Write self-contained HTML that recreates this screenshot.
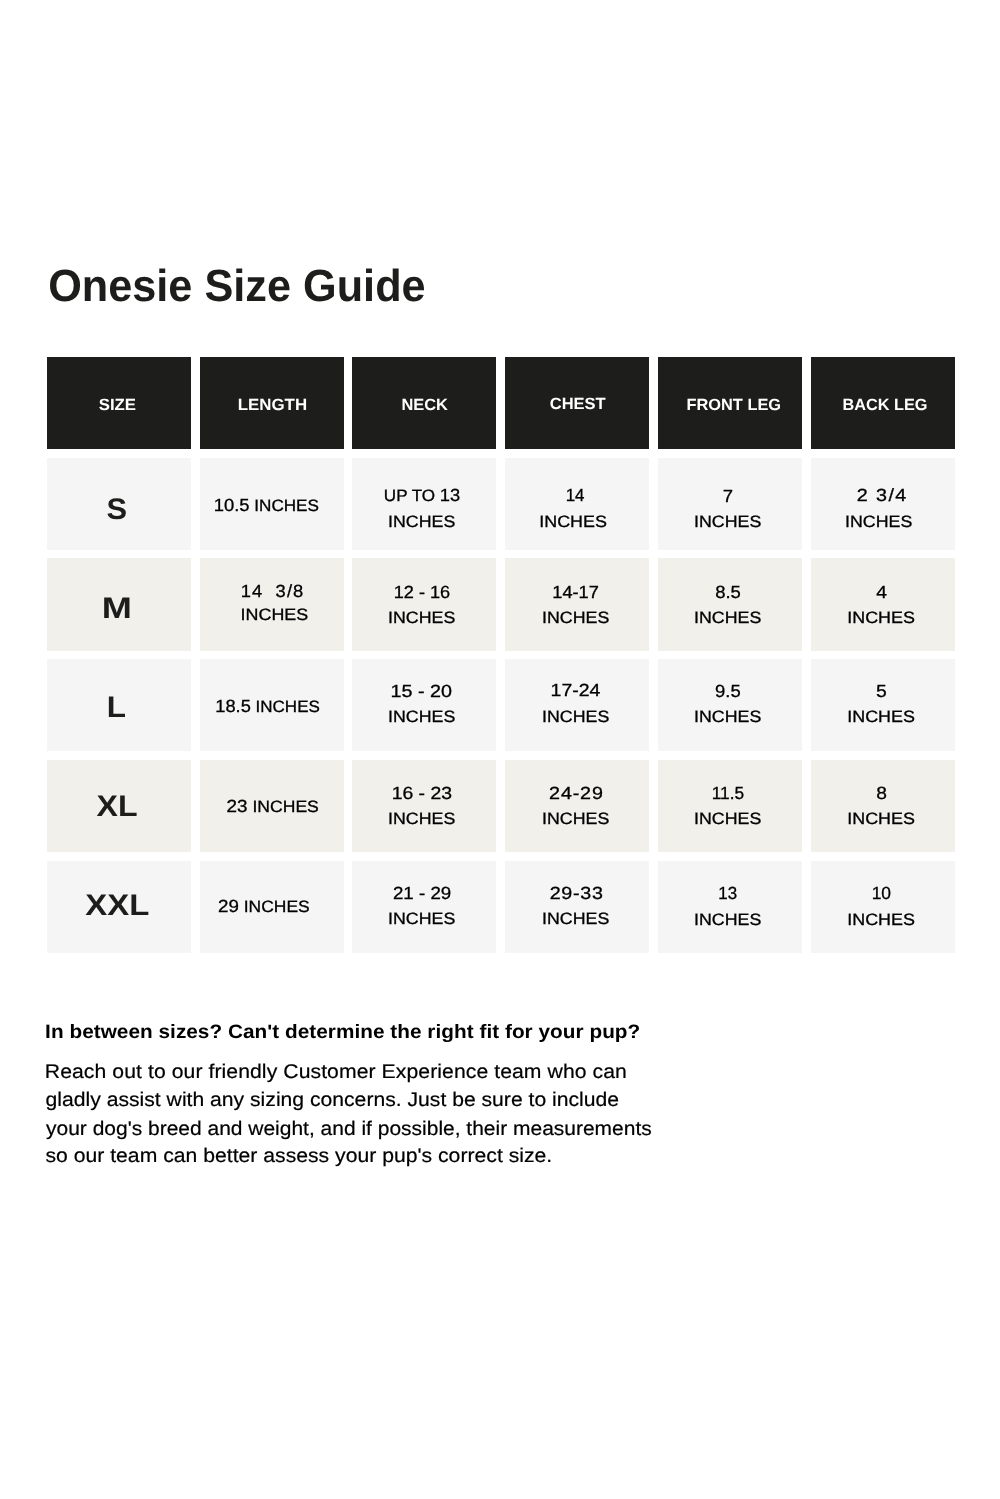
<!DOCTYPE html>
<html lang="en">
<head>
<meta charset="utf-8">
<title>Onesie Size Guide</title>
<style>
html,body{margin:0;padding:0;background:#fff;}
body{width:1000px;height:1499px;position:relative;overflow:hidden;font-family:"Liberation Sans",sans-serif;}
.c{position:absolute;}
.n{font-size:1.075em;}
.t{position:absolute;transform-origin:0 0;margin:0;padding:0;white-space:pre;font-weight:400;line-height:1;text-rendering:geometricPrecision;}
</style>
</head>
<body>
<main>
<section aria-label="size chart">
<div class="c" style="left:47.1px;top:357.3px;width:143.7px;height:91.7px;background:#1d1d1b"></div>
<div class="c" style="left:199.85px;top:357.3px;width:143.7px;height:91.7px;background:#1d1d1b"></div>
<div class="c" style="left:352.35px;top:357.3px;width:143.6px;height:91.7px;background:#1d1d1b"></div>
<div class="c" style="left:505px;top:357.3px;width:143.9px;height:91.7px;background:#1d1d1b"></div>
<div class="c" style="left:658px;top:357.3px;width:144px;height:91.7px;background:#1d1d1b"></div>
<div class="c" style="left:810.5px;top:357.3px;width:144.25px;height:91.7px;background:#1d1d1b"></div>
<div class="c" style="left:47.1px;top:457.7px;width:143.7px;height:92.35px;background:#f5f5f5"></div>
<div class="c" style="left:199.85px;top:457.7px;width:143.7px;height:92.35px;background:#f5f5f5"></div>
<div class="c" style="left:352.35px;top:457.7px;width:143.6px;height:92.35px;background:#f5f5f5"></div>
<div class="c" style="left:505px;top:457.7px;width:143.9px;height:92.35px;background:#f5f5f5"></div>
<div class="c" style="left:658px;top:457.7px;width:144px;height:92.35px;background:#f5f5f5"></div>
<div class="c" style="left:810.5px;top:457.7px;width:144.25px;height:92.35px;background:#f5f5f5"></div>
<div class="c" style="left:47.1px;top:558.45px;width:143.7px;height:92.35px;background:#f1f0eb"></div>
<div class="c" style="left:199.85px;top:558.45px;width:143.7px;height:92.35px;background:#f1f0eb"></div>
<div class="c" style="left:352.35px;top:558.45px;width:143.6px;height:92.35px;background:#f1f0eb"></div>
<div class="c" style="left:505px;top:558.45px;width:143.9px;height:92.35px;background:#f1f0eb"></div>
<div class="c" style="left:658px;top:558.45px;width:144px;height:92.35px;background:#f1f0eb"></div>
<div class="c" style="left:810.5px;top:558.45px;width:144.25px;height:92.35px;background:#f1f0eb"></div>
<div class="c" style="left:47.1px;top:659.2px;width:143.7px;height:92.0px;background:#f5f5f5"></div>
<div class="c" style="left:199.85px;top:659.2px;width:143.7px;height:92.0px;background:#f5f5f5"></div>
<div class="c" style="left:352.35px;top:659.2px;width:143.6px;height:92.0px;background:#f5f5f5"></div>
<div class="c" style="left:505px;top:659.2px;width:143.9px;height:92.0px;background:#f5f5f5"></div>
<div class="c" style="left:658px;top:659.2px;width:144px;height:92.0px;background:#f5f5f5"></div>
<div class="c" style="left:810.5px;top:659.2px;width:144.25px;height:92.0px;background:#f5f5f5"></div>
<div class="c" style="left:47.1px;top:759.7px;width:143.7px;height:92.2px;background:#f1f0eb"></div>
<div class="c" style="left:199.85px;top:759.7px;width:143.7px;height:92.2px;background:#f1f0eb"></div>
<div class="c" style="left:352.35px;top:759.7px;width:143.6px;height:92.2px;background:#f1f0eb"></div>
<div class="c" style="left:505px;top:759.7px;width:143.9px;height:92.2px;background:#f1f0eb"></div>
<div class="c" style="left:658px;top:759.7px;width:144px;height:92.2px;background:#f1f0eb"></div>
<div class="c" style="left:810.5px;top:759.7px;width:144.25px;height:92.2px;background:#f1f0eb"></div>
<div class="c" style="left:47.1px;top:860.6px;width:143.7px;height:92.4px;background:#f5f5f5"></div>
<div class="c" style="left:199.85px;top:860.6px;width:143.7px;height:92.4px;background:#f5f5f5"></div>
<div class="c" style="left:352.35px;top:860.6px;width:143.6px;height:92.4px;background:#f5f5f5"></div>
<div class="c" style="left:505px;top:860.6px;width:143.9px;height:92.4px;background:#f5f5f5"></div>
<div class="c" style="left:658px;top:860.6px;width:144px;height:92.4px;background:#f5f5f5"></div>
<div class="c" style="left:810.5px;top:860.6px;width:144.25px;height:92.4px;background:#f5f5f5"></div>
</section>
<h1 class="t" style="left:48px;top:262.80px;font-size:45px;font-weight:700;color:#1d1d1b;transform:translate(0.14px,0) scaleX(0.9614)">Onesie Size Guide</h1>
<div class="t" style="left:98px;top:396.51px;font-size:16.2px;font-weight:700;color:#fff;transform:translate(0.68px,0) scaleX(1.0382)">SIZE</div>
<div class="t" style="left:237px;top:396.51px;font-size:16.2px;font-weight:700;color:#fff;transform:translate(0.71px,0) scaleX(1.0427)">LENGTH</div>
<div class="t" style="left:401px;top:396.51px;font-size:16.2px;font-weight:700;color:#fff;transform:translate(0.44px,0) scaleX(1.0133)">NECK</div>
<div class="t" style="left:549px;top:396.31px;font-size:16.2px;font-weight:700;color:#fff;transform:translate(0.70px,0) scaleX(1.0205)">CHEST</div>
<div class="t" style="left:686px;top:396.70px;font-size:16.2px;font-weight:700;color:#fff;transform:translate(0.45px,0) scaleX(1.0121)">FRONT LEG</div>
<div class="t" style="left:842px;top:396.70px;font-size:16.2px;font-weight:700;color:#fff;transform:translate(0.47px,0) scaleX(1.0056)">BACK LEG</div>
<div class="t" style="left:106px;top:495.20px;font-size:29.7px;font-weight:700;color:#1d1d1b;transform:translate(0.61px,0) scaleX(1.0386)">S</div>
<div class="t" style="left:213px;top:497.01px;font-size:16.4px;font-weight:400;color:#000;-webkit-text-stroke:0.3px #000;transform:translate(0.75px,0) scaleX(1.0436)"><span class="n">10.5</span> INCHES</div>
<div class="t" style="left:383px;top:487.01px;font-size:16.4px;font-weight:400;color:#000;-webkit-text-stroke:0.3px #000;transform:translate(0.83px,0) scaleX(1.0411)">UP TO <span class="n">13</span></div>
<div class="t" style="left:388px;top:514.01px;font-size:16.4px;font-weight:400;color:#000;-webkit-text-stroke:0.3px #000;transform:translate(0.10px,0) scaleX(1.0840)">INCHES</div>
<div class="t" style="left:565px;top:487.01px;font-size:16.4px;font-weight:400;color:#000;-webkit-text-stroke:0.3px #000;transform:translate(0.69px,0) scaleX(0.9608)"><span class="n">14</span></div>
<div class="t" style="left:539px;top:513.70px;font-size:16.4px;font-weight:400;color:#000;-webkit-text-stroke:0.3px #000;transform:translate(0.23px,0) scaleX(1.0923)">INCHES</div>
<div class="t" style="left:722px;top:487.51px;font-size:16.4px;font-weight:400;color:#000;-webkit-text-stroke:0.3px #000;transform:translate(0.65px,0) scaleX(1.0502)"><span class="n">7</span></div>
<div class="t" style="left:694px;top:514.01px;font-size:16.4px;font-weight:400;color:#000;-webkit-text-stroke:0.3px #000;transform:translate(0.10px,0) scaleX(1.0840)">INCHES</div>
<div class="t" style="left:856px;top:487.20px;font-size:16.4px;font-weight:400;color:#000;-webkit-text-stroke:0.3px #000;letter-spacing:1.304px;transform:translate(0.63px,0) scaleX(1.1200)"><span class="n">2 3/4</span></div>
<div class="t" style="left:845px;top:514.01px;font-size:16.4px;font-weight:400;color:#000;-webkit-text-stroke:0.3px #000;transform:translate(0.10px,0) scaleX(1.0840)">INCHES</div>
<div class="t" style="left:101px;top:594.00px;font-size:29.7px;font-weight:700;color:#1d1d1b;transform:translate(0.82px,0) scaleX(1.2174)">M</div>
<div class="t" style="left:240px;top:582.51px;font-size:16.4px;font-weight:400;color:#000;-webkit-text-stroke:0.3px #000;letter-spacing:1.033px;transform:translate(0.78px,0) scaleX(1.0400)"><span class="n">14  3/8</span></div>
<div class="t" style="left:240px;top:606.51px;font-size:16.4px;font-weight:400;color:#000;-webkit-text-stroke:0.3px #000;transform:translate(0.58px,0) scaleX(1.0910)">INCHES</div>
<div class="t" style="left:393px;top:583.51px;font-size:16.4px;font-weight:400;color:#000;-webkit-text-stroke:0.3px #000;transform:translate(0.78px,0) scaleX(1.0282)"><span class="n">12 - 16</span></div>
<div class="t" style="left:388px;top:610.01px;font-size:16.4px;font-weight:400;color:#000;-webkit-text-stroke:0.3px #000;transform:translate(0.10px,0) scaleX(1.0841)">INCHES</div>
<div class="t" style="left:552px;top:583.51px;font-size:16.4px;font-weight:400;color:#000;-webkit-text-stroke:0.3px #000;transform:translate(0.28px,0) scaleX(1.0348)"><span class="n">14-17</span></div>
<div class="t" style="left:542px;top:610.01px;font-size:16.4px;font-weight:400;color:#000;-webkit-text-stroke:0.3px #000;transform:translate(0.10px,0) scaleX(1.0841)">INCHES</div>
<div class="t" style="left:715px;top:584.01px;font-size:16.4px;font-weight:400;color:#000;-webkit-text-stroke:0.3px #000;transform:translate(0.13px,0) scaleX(1.0490)"><span class="n">8.5</span></div>
<div class="t" style="left:694px;top:610.31px;font-size:16.4px;font-weight:400;color:#000;-webkit-text-stroke:0.3px #000;transform:translate(0.10px,0) scaleX(1.0841)">INCHES</div>
<div class="t" style="left:876px;top:584.01px;font-size:16.4px;font-weight:400;color:#000;-webkit-text-stroke:0.3px #000;transform:translate(0.17px,0) scaleX(1.0968)"><span class="n">4</span></div>
<div class="t" style="left:847px;top:610.31px;font-size:16.4px;font-weight:400;color:#000;-webkit-text-stroke:0.3px #000;transform:translate(0.23px,0) scaleX(1.0922)">INCHES</div>
<div class="t" style="left:106px;top:693.00px;font-size:29.7px;font-weight:700;color:#1d1d1b;transform:translate(0.77px,0) scaleX(1.0591)">L</div>
<div class="t" style="left:215px;top:698.01px;font-size:16.4px;font-weight:400;color:#000;-webkit-text-stroke:0.3px #000;transform:translate(0.30px,0) scaleX(1.0371)"><span class="n">18.5</span> INCHES</div>
<div class="t" style="left:390px;top:682.51px;font-size:16.4px;font-weight:400;color:#000;-webkit-text-stroke:0.3px #000;letter-spacing:0.021px;transform:translate(0.51px,0) scaleX(1.1200)"><span class="n">15 - 20</span></div>
<div class="t" style="left:388px;top:709.01px;font-size:16.4px;font-weight:400;color:#000;-webkit-text-stroke:0.3px #000;transform:translate(0.10px,0) scaleX(1.0840)">INCHES</div>
<div class="t" style="left:550px;top:682.01px;font-size:16.4px;font-weight:400;color:#000;-webkit-text-stroke:0.3px #000;transform:translate(0.60px,0) scaleX(1.1031)"><span class="n">17-24</span></div>
<div class="t" style="left:542px;top:709.01px;font-size:16.4px;font-weight:400;color:#000;-webkit-text-stroke:0.3px #000;transform:translate(0.10px,0) scaleX(1.0840)">INCHES</div>
<div class="t" style="left:715px;top:682.51px;font-size:16.4px;font-weight:400;color:#000;-webkit-text-stroke:0.3px #000;transform:translate(0.11px,0) scaleX(1.0455)"><span class="n">9.5</span></div>
<div class="t" style="left:694px;top:709.20px;font-size:16.4px;font-weight:400;color:#000;-webkit-text-stroke:0.3px #000;transform:translate(0.10px,0) scaleX(1.0840)">INCHES</div>
<div class="t" style="left:875px;top:682.51px;font-size:16.4px;font-weight:400;color:#000;-webkit-text-stroke:0.3px #000;transform:translate(0.96px,0) scaleX(1.0962)"><span class="n">5</span></div>
<div class="t" style="left:847px;top:709.20px;font-size:16.4px;font-weight:400;color:#000;-webkit-text-stroke:0.3px #000;transform:translate(0.23px,0) scaleX(1.0923)">INCHES</div>
<div class="t" style="left:96px;top:791.50px;font-size:29.7px;font-weight:700;color:#1d1d1b;transform:translate(0.56px,0) scaleX(1.0806)">XL</div>
<div class="t" style="left:226px;top:798.01px;font-size:16.4px;font-weight:400;color:#000;-webkit-text-stroke:0.3px #000;transform:translate(0.58px,0) scaleX(1.0715)"><span class="n">23</span> INCHES</div>
<div class="t" style="left:391px;top:785.01px;font-size:16.4px;font-weight:400;color:#000;-webkit-text-stroke:0.3px #000;transform:translate(0.67px,0) scaleX(1.1005)"><span class="n">16 - 23</span></div>
<div class="t" style="left:388px;top:811.01px;font-size:16.4px;font-weight:400;color:#000;-webkit-text-stroke:0.3px #000;transform:translate(0.10px,0) scaleX(1.0841)">INCHES</div>
<div class="t" style="left:549px;top:785.01px;font-size:16.4px;font-weight:400;color:#000;-webkit-text-stroke:0.3px #000;letter-spacing:0.747px;transform:translate(0.07px,0) scaleX(1.1200)"><span class="n">24-29</span></div>
<div class="t" style="left:542px;top:811.01px;font-size:16.4px;font-weight:400;color:#000;-webkit-text-stroke:0.3px #000;transform:translate(0.10px,0) scaleX(1.0841)">INCHES</div>
<div class="t" style="left:711px;top:785.01px;font-size:16.4px;font-weight:400;color:#000;-webkit-text-stroke:0.3px #000;transform:translate(0.69px,0) scaleX(0.9815)"><span class="n">11.5</span></div>
<div class="t" style="left:694px;top:811.01px;font-size:16.4px;font-weight:400;color:#000;-webkit-text-stroke:0.3px #000;transform:translate(0.10px,0) scaleX(1.0841)">INCHES</div>
<div class="t" style="left:876px;top:785.01px;font-size:16.4px;font-weight:400;color:#000;-webkit-text-stroke:0.3px #000;transform:translate(0.13px,0) scaleX(1.0907)"><span class="n">8</span></div>
<div class="t" style="left:847px;top:811.01px;font-size:16.4px;font-weight:400;color:#000;-webkit-text-stroke:0.3px #000;transform:translate(0.23px,0) scaleX(1.0922)">INCHES</div>
<div class="t" style="left:85px;top:891.00px;font-size:29.7px;font-weight:700;color:#1d1d1b;transform:translate(0.27px,0) scaleX(1.1081)">XXL</div>
<div class="t" style="left:218px;top:898.01px;font-size:16.4px;font-weight:400;color:#000;-webkit-text-stroke:0.3px #000;transform:translate(0.03px,0) scaleX(1.0644)"><span class="n">29</span> INCHES</div>
<div class="t" style="left:392px;top:885.01px;font-size:16.4px;font-weight:400;color:#000;-webkit-text-stroke:0.3px #000;transform:translate(0.98px,0) scaleX(1.0613)"><span class="n">21 - 29</span></div>
<div class="t" style="left:388px;top:911.20px;font-size:16.4px;font-weight:400;color:#000;-webkit-text-stroke:0.3px #000;transform:translate(0.10px,0) scaleX(1.0840)">INCHES</div>
<div class="t" style="left:549px;top:885.01px;font-size:16.4px;font-weight:400;color:#000;-webkit-text-stroke:0.3px #000;letter-spacing:0.643px;transform:translate(0.63px,0) scaleX(1.1200)"><span class="n">29-33</span></div>
<div class="t" style="left:542px;top:911.20px;font-size:16.4px;font-weight:400;color:#000;-webkit-text-stroke:0.3px #000;transform:translate(0.10px,0) scaleX(1.0840)">INCHES</div>
<div class="t" style="left:718px;top:885.01px;font-size:16.4px;font-weight:400;color:#000;-webkit-text-stroke:0.3px #000;transform:translate(0.29px,0) scaleX(0.9618)"><span class="n">13</span></div>
<div class="t" style="left:694px;top:912.01px;font-size:16.4px;font-weight:400;color:#000;-webkit-text-stroke:0.3px #000;transform:translate(0.10px,0) scaleX(1.0840)">INCHES</div>
<div class="t" style="left:871px;top:885.01px;font-size:16.4px;font-weight:400;color:#000;-webkit-text-stroke:0.3px #000;transform:translate(0.67px,0) scaleX(0.9897)"><span class="n">10</span></div>
<div class="t" style="left:847px;top:912.01px;font-size:16.4px;font-weight:400;color:#000;-webkit-text-stroke:0.3px #000;transform:translate(0.23px,0) scaleX(1.0923)">INCHES</div>
<h2 class="t" style="left:45px;top:1023.00px;font-size:19.4px;font-weight:700;color:#000;letter-spacing:0.036px;transform:translate(0.10px,0) scaleX(1.0700)">In between sizes? Can't determine the right fit for your pup?</h2>
<p class="t" style="left:44px;top:1063.41px;font-size:19.8px;font-weight:400;color:#000;-webkit-text-stroke:0.2px #000;letter-spacing:0.072px;transform:translate(0.78px,0) scaleX(1.0700)">Reach out to our friendly Customer Experience team who can</p>
<p class="t" style="left:45px;top:1091.41px;font-size:19.8px;font-weight:400;color:#000;-webkit-text-stroke:0.2px #000;transform:translate(0.60px,0) scaleX(1.0687)">gladly assist with any sizing concerns. Just be sure to include</p>
<p class="t" style="left:46px;top:1119.61px;font-size:19.8px;font-weight:400;color:#000;-webkit-text-stroke:0.2px #000;transform:translate(0.03px,0) scaleX(1.0605)">your dog's breed and weight, and if possible, their measurements</p>
<p class="t" style="left:45px;top:1147.41px;font-size:19.8px;font-weight:400;color:#000;-webkit-text-stroke:0.2px #000;letter-spacing:0.007px;transform:translate(0.44px,0) scaleX(1.0700)">so our team can better assess your pup's correct size.</p>
</main>
</body>
</html>
